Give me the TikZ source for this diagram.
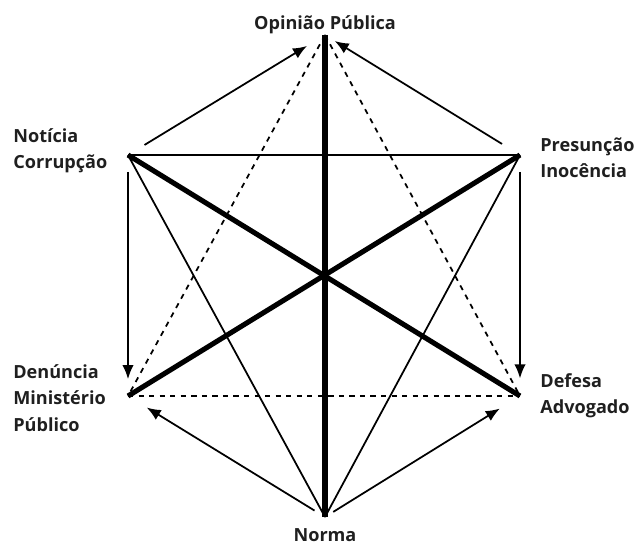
\documentclass[tikz,border=0pt]{standalone}
\usepackage{fontspec}
\setmainfont{Open Sans}
\usetikzlibrary{arrows.meta,positioning}

\begin{document}
\begin{tikzpicture}[
  x=0.02cm, y=-0.02cm,
  thin/.style={line width=1pt},
  heavy/.style={line width=2.9pt},
  spine/.style={line width=3.8pt},
  dsh/.style={line width=1pt, dash pattern=on 3pt off 3pt},
  arr/.style={line width=1pt, -{Latex[length=8pt,width=6.5pt]}},
  lbl/.style={font=\fontsize{10.3}{15}\selectfont\bfseries, text=black!88,
              align=left, inner sep=0pt}
]

\useasboundingbox (0,0) rectangle (634,544);

\def\xL{128}
\def\xM{325}
\def\xR{520}

\def\yTop{35}
\def\yUp{155}
\def\yLo{396}
\def\yBot{517}

% ------------------------
% Corners of the hexagon
% ------------------------
\coordinate (op) at (\xM,\yTop);
\coordinate (nc) at (\xL,\yUp);
\coordinate (pi) at (\xR,\yUp);
\coordinate (dm) at (\xL,\yLo);
\coordinate (da) at (\xR,\yLo);
\coordinate (no) at (\xM,\yBot);

% Labels
\node[lbl, anchor=base]  (opLab) at (\xM,30)  {Opinião Pública};
\node[lbl, anchor=west]  (ncLab) at (13,151)  {Notícia\\Corrupção};
\node[lbl, anchor=west]  (piLab) at (540,158) {Presunção\\Inocência};
\node[lbl, anchor=west]  (dmLab) at (13,398)  {Denúncia\\Ministério\\Público};
\node[lbl, anchor=west]  (daLab) at (540,396) {Defesa\\Advogado};
\node[lbl, anchor=base]  (noLab) at (\xM,541) {Norma};

% Diagonals
\draw[spine] (op) -- (no);
\draw[heavy] (nc) -- (da);
\draw[heavy] (pi) -- (dm);

% Thin and dashed links
\draw[thin] (nc) -- (pi);
\draw[thin] (nc) -- (no);
\draw[thin] (pi) -- (no);
\draw[dsh] (dm) -- (da);
\draw[dsh] (op) -- (dm);
\draw[dsh] (op) -- (da);

% Outer arrows
\draw[arr, shorten <=11pt, shorten >=12pt] (nc) -- (op);
\draw[arr, shorten <=12pt, shorten >=6.5pt] (pi) -- (op);
\draw[arr, shorten <=9.6pt, shorten >=9.6pt, xshift=-3] (nc) -- (dm);
\draw[arr, shorten <=9.6pt, shorten >=10pt, xshift=2] (pi) -- (da);
\draw[arr, shorten <=7pt, shorten >=12.5pt] (no) -- (dm);
\draw[arr, shorten <=5.5pt, shorten >=13.5pt] (no) -- (da);

\end{tikzpicture}
\end{document}
